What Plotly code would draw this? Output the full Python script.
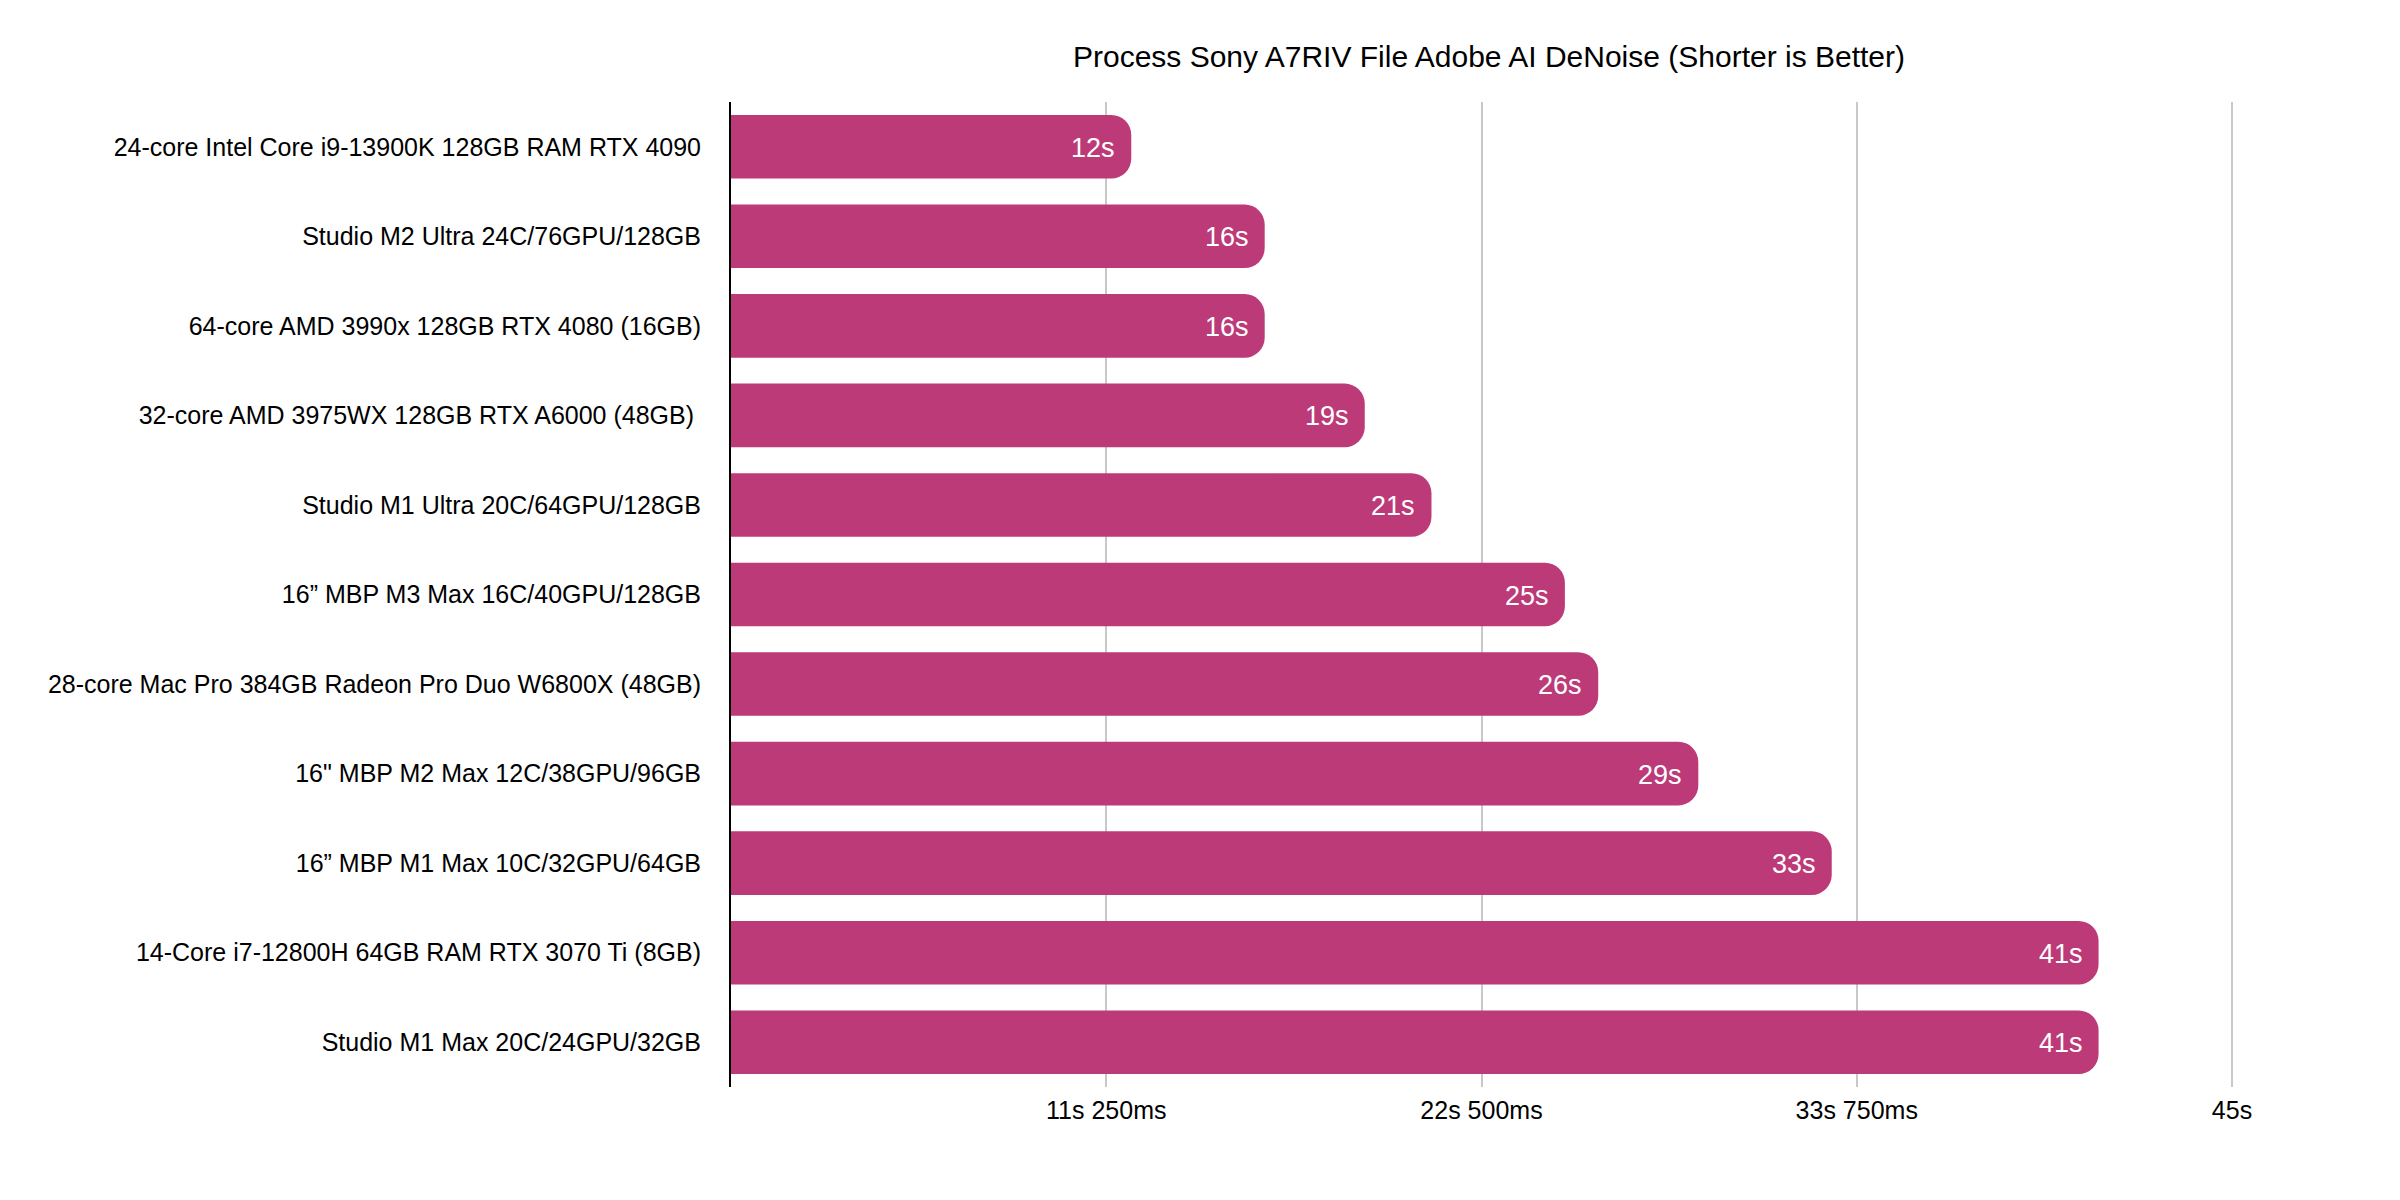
import plotly.graph_objects as go

categories = [
    "24-core Intel Core i9-13900K 128GB RAM RTX 4090",
    "Studio M2 Ultra 24C/76GPU/128GB",
    "64-core AMD 3990x 128GB RTX 4080 (16GB)",
    "32-core AMD 3975WX 128GB RTX A6000 (48GB) ",
    "Studio M1 Ultra 20C/64GPU/128GB",
    "16\u201d MBP M3 Max 16C/40GPU/128GB",
    "28-core Mac Pro 384GB Radeon Pro Duo W6800X (48GB)",
    "16\" MBP M2 Max 12C/38GPU/96GB",
    "16\u201d MBP M1 Max 10C/32GPU/64GB",
    "14-Core i7-12800H 64GB RAM RTX 3070 Ti (8GB)",
    "Studio M1 Max 20C/24GPU/32GB",
]
seconds = [12, 16, 16, 19, 21, 25, 26, 29, 33, 41, 41]
bar_labels = [f"{v}s" for v in seconds]
tick_vals = [11.25, 22.5, 33.75, 45]
tick_text = ["11s 250ms", "22s 500ms", "33s 750ms", "45s"]
title = "Process Sony A7RIV File Adobe AI DeNoise (Shorter is Better)"

font_family = "Liberation Sans, Arial, Helvetica, sans-serif"

fig = go.Figure(
    go.Bar(
        x=seconds,
        y=categories,
        orientation="h",
        marker=dict(color="#BC3A78", cornerradius=20, line=dict(width=0)),
        width=0.71,
        hoverinfo="x+y",
    )
)

for cat, val, lab in zip(categories, seconds, bar_labels):
    fig.add_annotation(
        x=val,
        y=cat,
        text=lab,
        showarrow=False,
        xanchor="right",
        yanchor="middle",
        xshift=-14,
        yshift=-1,
        font=dict(color="white", size=27, family=font_family),
    )

fig.update_layout(
    width=2400,
    height=1200,
    paper_bgcolor="white",
    plot_bgcolor="white",
    margin=dict(l=723, r=171, t=94, b=121),
    showlegend=False,
    font=dict(family=font_family, color="black", size=25),
    title=dict(
        text=title,
        x=1481 / 2400,
        xref="container",
        xanchor="center",
        y=1 - 48 / 1200,
        yref="container",
        yanchor="middle",
        font=dict(size=30, color="black", family=font_family),
    ),
)

fig.update_xaxes(
    range=[0, 45.15],
    tickvals=tick_vals,
    ticktext=tick_text,
    showgrid=True,
    gridcolor="#C8C8C8",
    gridwidth=1.5,
    zeroline=False,
    showline=False,
    ticks="",
    tickfont=dict(size=25, color="black"),
    ticklabelstandoff=6,
    automargin=False,
)

fig.update_yaxes(
    autorange="reversed",
    showgrid=False,
    showline=True,
    linecolor="black",
    linewidth=2,
    ticks="",
    ticklabelstandoff=23,
    tickfont=dict(size=25, color="black"),
    automargin=False,
)

fig.write_html("out.html")
